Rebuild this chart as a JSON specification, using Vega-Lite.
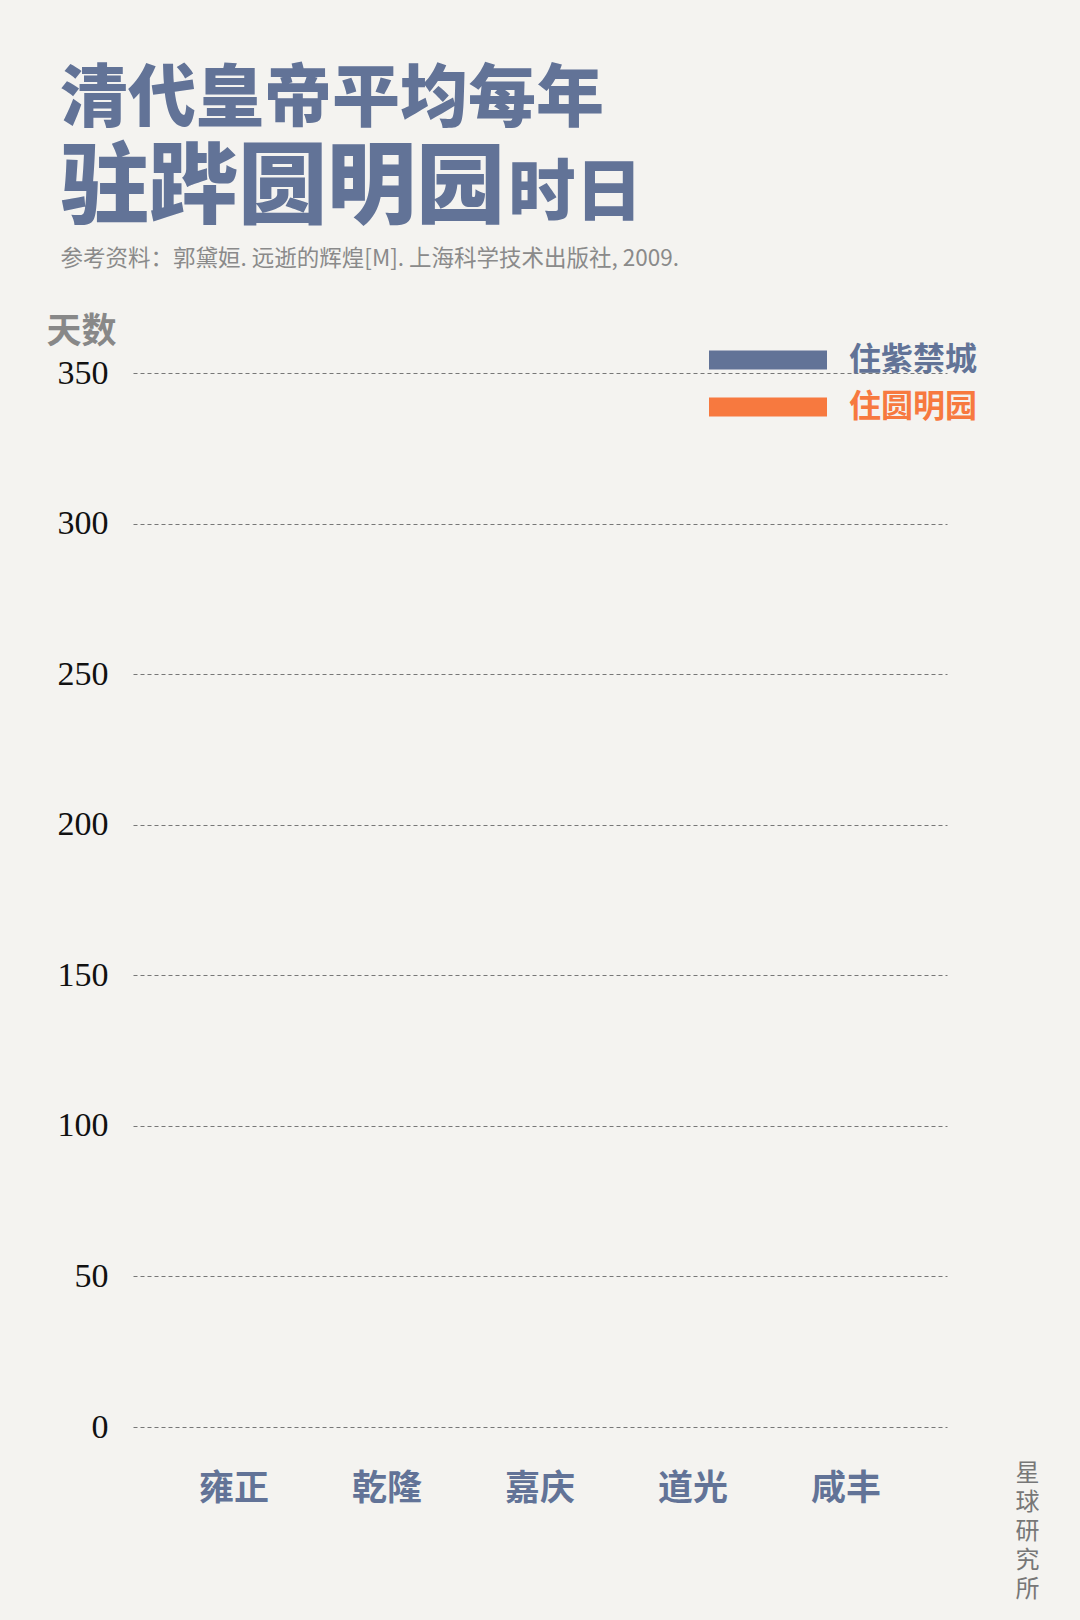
{
  "$schema": "https://vega.github.io/schema/vega-lite/v6.json",
  "background": "#f4f3f0",
  "autosize": "none",
  "width": 814,
  "height": 1054,
  "padding": {"left": 133, "top": 373, "right": 133, "bottom": 193},
  "title": {
    "text": "清代皇帝平均每年",
    "subtitle": "驻跸圆明园",
    "anchor": "start",
    "frame": "group",
    "dx": -73,
    "offset": -74,
    "font": "Noto Sans CJK SC",
    "fontSize": 68,
    "fontWeight": 900,
    "color": "#627397",
    "subtitleFont": "Noto Sans CJK SC",
    "subtitleFontSize": 89,
    "subtitleFontWeight": 900,
    "subtitleColor": "#627397",
    "subtitlePadding": 11
  },
  "config": {
    "view": {"stroke": null},
    "font": "Noto Sans CJK SC"
  },
  "data": {
    "values": [
      {"emperor": "雍正", "residence": "住紫禁城", "days": 0},
      {"emperor": "雍正", "residence": "住圆明园", "days": 0},
      {"emperor": "乾隆", "residence": "住紫禁城", "days": 0},
      {"emperor": "乾隆", "residence": "住圆明园", "days": 0},
      {"emperor": "嘉庆", "residence": "住紫禁城", "days": 0},
      {"emperor": "嘉庆", "residence": "住圆明园", "days": 0},
      {"emperor": "道光", "residence": "住紫禁城", "days": 0},
      {"emperor": "道光", "residence": "住圆明园", "days": 0},
      {"emperor": "咸丰", "residence": "住紫禁城", "days": 0},
      {"emperor": "咸丰", "residence": "住圆明园", "days": 0}
    ]
  },
  "layer": [
    {
      "mark": {"type": "bar"},
      "encoding": {
        "x": {
          "field": "emperor",
          "type": "nominal",
          "sort": ["雍正", "乾隆", "嘉庆", "道光", "咸丰"],
          "scale": {"paddingInner": 0.3, "paddingOuter": 0.31},
          "axis": {
            "orient": "bottom",
            "domain": false,
            "ticks": false,
            "grid": false,
            "labelAngle": 0,
            "labelFont": "Noto Sans CJK SC",
            "labelFontSize": 35,
            "labelFontWeight": "bold",
            "labelColor": "#627397",
            "labelPadding": 44,
            "title": ["星", "球", "研", "究", "所"],
            "titleX": 894,
            "titleY": 53,
            "titleAlign": "center",
            "titleBaseline": "alphabetic",
            "titleAngle": 0,
            "titleFont": "Noto Sans CJK SC",
            "titleFontSize": 24,
            "titleFontWeight": "normal",
            "titleLineHeight": 29,
            "titleColor": "#777777"
          }
        },
        "xOffset": {"field": "residence", "sort": ["住紫禁城", "住圆明园"]},
        "y": {
          "field": "days",
          "type": "quantitative",
          "scale": {"domain": [0, 350], "nice": false},
          "axis": {
            "orient": "left",
            "values": [0, 50, 100, 150, 200, 250, 300, 350],
            "domain": false,
            "ticks": false,
            "grid": true,
            "gridDash": [4, 3],
            "gridColor": "#777777",
            "gridWidth": 1,
            "labelFont": "Liberation Serif",
            "labelFontSize": 34,
            "labelColor": "#111111",
            "labelPadding": 25,
            "title": "天数",
            "titleAngle": 0,
            "titleX": -87,
            "titleY": -42,
            "titleAlign": "left",
            "titleBaseline": "middle",
            "titleFont": "Noto Sans CJK SC",
            "titleFontSize": 35,
            "titleFontWeight": "bold",
            "titleColor": "#888888"
          }
        },
        "color": {
          "field": "residence",
          "type": "nominal",
          "scale": {"domain": ["住紫禁城", "住圆明园"], "range": ["#627397", "#f7793f"]},
          "legend": {
            "title": null,
            "orient": "none",
            "legendX": 576,
            "legendY": -30,
            "padding": 0,
            "direction": "vertical",
            "symbolType": "M-1,-0.16H1V0.16H-1Z",
            "symbolSize": 13924,
            "symbolStrokeWidth": 0,
            "symbolOpacity": 1,
            "clipHeight": 34,
            "rowPadding": 13,
            "labelFont": "Noto Sans CJK SC",
            "labelFontSize": 32,
            "labelFontWeight": "bold",
            "labelOffset": 22,
            "encode": {
              "labels": {"update": {"fill": {"scale": "color", "field": "value"}}}
            }
          }
        }
      }
    },
    {
      "mark": {"type": "bar", "opacity": 0},
      "encoding": {
        "x": {
          "field": "emperor",
          "type": "nominal",
          "sort": ["雍正", "乾隆", "嘉庆", "道光", "咸丰"],
          "axis": {
            "orient": "top",
            "labels": false,
            "domain": false,
            "ticks": false,
            "grid": false,
            "title": "时日",
            "titleX": 375,
            "titleY": -159,
            "titleAlign": "left",
            "titleBaseline": "alphabetic",
            "titleAngle": 0,
            "titleFont": "Noto Sans CJK SC",
            "titleFontSize": 67,
            "titleFontWeight": 900,
            "titleColor": "#627397"
          }
        },
        "y": {
          "field": "days",
          "type": "quantitative",
          "scale": {"domain": [0, 350], "nice": false},
          "axis": {
            "orient": "right",
            "labels": false,
            "domain": false,
            "ticks": false,
            "grid": false,
            "title": "参考资料：郭黛姮. 远逝的辉煌[M]. 上海科学技术出版社, 2009.",
            "titleX": -887,
            "titleY": -108,
            "titleAlign": "left",
            "titleBaseline": "alphabetic",
            "titleAngle": 0,
            "titleFont": "Noto Sans CJK SC",
            "titleFontSize": 22.5,
            "titleFontWeight": "normal",
            "titleColor": "#8a8a8a"
          }
        }
      }
    }
  ],
  "resolve": {
    "scale": {"x": "independent", "y": "independent"},
    "axis": {"x": "independent", "y": "independent"}
  }
}
